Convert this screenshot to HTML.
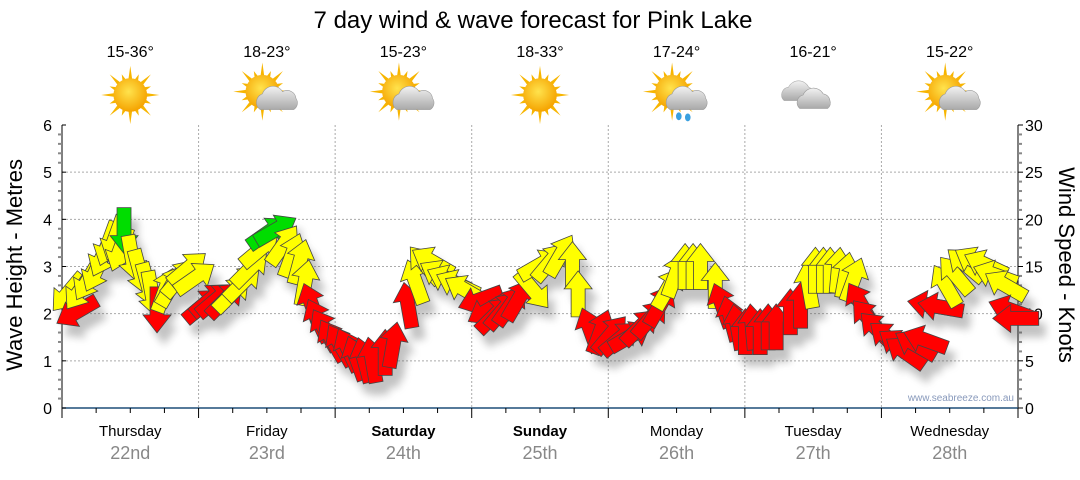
<!DOCTYPE html>
<html><head><meta charset="utf-8">
<style>
body{margin:0;background:#fff;width:1080px;height:475px;overflow:hidden;font-family:"Liberation Sans",sans-serif;}
svg text{font-family:"Liberation Sans","DejaVu Sans",sans-serif;}
</style></head>
<body>
<svg id="chart" width="1080" height="475" viewBox="0 0 1080 475" xmlns="http://www.w3.org/2000/svg">
<defs>
<filter id="sh" x="-50%" y="-50%" width="200%" height="200%"><feGaussianBlur stdDeviation="4"/></filter>
<radialGradient id="sunG" cx="45%" cy="40%" r="60%"><stop offset="0" stop-color="#ffe34d"/><stop offset="1" stop-color="#f5a300"/></radialGradient>
<linearGradient id="cloudG" x1="0" y1="0" x2="0" y2="1"><stop offset="0" stop-color="#f2f2f2"/><stop offset="1" stop-color="#a9a9a9"/></linearGradient>
</defs>
<text x="533" y="28" font-size="24" text-anchor="middle" fill="#000">7 day wind &amp; wave forecast for Pink Lake</text>
<g id="grid"></g>
<g id="wx"></g>
<g id="axes"></g>
<g id="shadows" filter="url(#sh)" opacity="0.35"></g>
<g id="arrows"></g>
<text transform="translate(22,265) rotate(-90)" font-size="22" text-anchor="middle">Wave Height - Metres</text>
<text transform="translate(1059,265) rotate(90)" font-size="22" text-anchor="middle">Wind Speed - Knots</text>
<text x="1014" y="401" font-size="10" text-anchor="end" fill="#8899bb">www.seabreeze.com.au</text>
</svg>
<script>
const dayNames=["Thursday","Friday","Saturday","Sunday","Monday","Tuesday","Wednesday"];
const dayDates=["22nd","23rd","24th","25th","26th","27th","28th"];
const boldDays=[false,false,true,true,false,false,false];
const temps=["15-36°","18-23°","15-23°","18-33°","17-24°","16-21°","15-22°"];
const icons=["sun","suncloud","suncloud","sun","rain","cloud","suncloud"];
const waveTicks=[0,1,2,3,4,5,6];
const windTicks=[0,5,10,15,20,25,30];
const hours=[1.05,2.6,3.2,4.6,6.0,7.2,8.1,9.3,10.2,10.9,12.3,13.7,15.1,15.8,16.7,18.1,19.3,20.7,22.1,23.4,
24.8,26.0,27.1,28.7,29.9,31.8,33.1,34.8,36.2,37.6,38.9,40.4,41.8,42.7,43.9,45.0,46.2,47.5,
48.9,50.3,51.7,53.1,54.5,56.8,58.2,60.8,62.1,63.8,65.1,66.5,67.9,69.5,70.9,
73.5,74.9,76.1,77.5,78.8,80.2,82.8,84.0,85.8,87.6,89.7,90.7,
92.8,94.6,96.4,98.1,99.9,101.6,103.4,105.1,106.5,107.8,109.5,110.9,112.2,114.8,
116.0,117.5,118.7,120.1,121.3,122.7,124.1,125.5,128.0,129.8,131.2,132.4,133.8,135.0,136.4,137.7,139.1,
140.3,141.7,143.3,145.2,147.0,148.2,150.0,151.7,152.6,154.4,
155.3,157.0,158.8,160.5,162.3,164.0,165.8,166.7,167.6];
const speeds=[12.2,10.2,12.5,13.6,14.6,16.2,17.4,18.0,16.8,18.8,15.9,14.4,13.0,12.1,10.4,12.5,13.0,13.8,14.8,13.8,
10.9,11.5,11.5,11.5,12.1,13.3,14.8,16.8,18.6,18.9,17.3,16.2,15.5,13.3,10.9,9.3,8.3,7.2,
6.7,6.2,5.3,5.1,5.1,5.9,6.7,10.9,13.4,15.2,15.5,14.1,13.6,13.1,12.5,
11.5,10.4,9.9,10.4,10.9,11.5,12.5,15.2,15.5,16.2,15.2,12.1,
8.3,8.1,7.8,7.4,7.6,8.6,9.5,10.9,12.7,14.1,15.0,15.0,15.0,13.0,
10.9,9.5,8.6,8.1,8.6,8.1,8.6,8.6,10.2,10.9,13.0,14.6,14.6,14.6,14.6,14.1,13.6,
11.1,9.5,8.3,7.4,6.7,5.9,6.7,7.2,10.9,10.7,
13.0,14.1,15.2,15.5,15.2,14.1,13.0,10.4,9.5];
const directions=[220,240,215,210,205,205,200,200,200,180,170,165,165,170,180,20,30,40,50,55,
50,50,50,45,45,45,45,50,55,60,35,20,15,10,340,335,330,330,
330,335,340,345,350,0,10,350,340,320,300,300,295,295,300,
250,240,45,40,35,30,140,60,40,30,0,0,
340,20,40,50,60,45,40,30,30,20,0,0,0,0,
340,345,350,0,355,0,0,0,0,0,350,0,0,0,5,10,20,
330,320,315,310,305,305,300,290,280,280,
330,320,310,300,295,290,300,290,270];

const X0=62,X1=1018,Y0=408,Y1=125;
const dayW=(X1-X0)/7;
const xT=h=>X0+h/168*(X1-X0);
const yW=m=>Y0-m/6*(Y0-Y1);
const yK=k=>Y0-k/30*(Y0-Y1);
const NS="http://www.w3.org/2000/svg";
function mk(tag,attrs,parent,txt){const e=document.createElementNS(NS,tag);for(const k in attrs)e.setAttribute(k,attrs[k]);if(txt!==undefined)e.textContent=txt;parent.appendChild(e);return e;}
const grid=document.getElementById('grid'),axes=document.getElementById('axes'),wx=document.getElementById('wx');
waveTicks.forEach(v=>{if(v===0||v===6)return;const l=mk('line',{x1:X0,x2:X1,y1:yW(v),y2:yW(v),stroke:'#aaa','stroke-dasharray':'2,2'},grid);

});
for(let d=1;d<7;d++){const l=mk('line',{x1:X0+d*dayW,x2:X0+d*dayW,y1:Y1,y2:Y0,stroke:'#aaa','stroke-dasharray':'2,2'},grid);

}
mk('line',{x1:X0,x2:X0,y1:Y1,y2:Y0+10,stroke:'#000'},axes);
mk('line',{x1:X1,x2:X1,y1:Y1,y2:Y0+10,stroke:'#000'},axes);
mk('line',{x1:X0,x2:X1,y1:Y0,y2:Y0,stroke:'#1f4e79','stroke-width':1.5},axes);
for(let i=0;i<=30;i++){const y=Y1+i*(Y0-Y1)/30;const maj=i%5===0;
mk('line',{x1:X0-(maj?0:4),x2:X0+(maj?4:0),y1:y,y2:y,stroke:maj?'#000':'#888','stroke-width':maj?1:2},axes);
mk('line',{x1:X1,x2:X1+(maj?5:4),y1:y,y2:y,stroke:maj?'#000':'#888','stroke-width':maj?1:2},axes);}
waveTicks.forEach(v=>{const t=mk('text',{x:X0-10,y:yW(v)+6,'font-size':16,'text-anchor':'end'},axes,String(v));

});
windTicks.forEach(v=>{const t=mk('text',{x:X1+7,y:yK(v)+6,'font-size':16},axes,String(v));

});
for(let i=0;i<=28;i++){const x=X0+i*dayW/4;const maj=i%4===0;
mk('line',{x1:x,x2:x,y1:Y0,y2:Y0+(maj?10:5),stroke:'#000'},axes);}
dayNames.forEach((n,i)=>{const cx=X0+(i+0.5)*dayW;
const t=mk('text',{x:cx,y:436,'font-size':15,'text-anchor':'middle','font-weight':boldDays[i]?'bold':'normal'},axes,n);


const d=mk('text',{x:cx,y:459,'font-size':18,'text-anchor':'middle',fill:'#888'},axes,dayDates[i]);


const tp=mk('text',{x:cx,y:57,'font-size':16,'text-anchor':'middle'},wx,temps[i]);


const g=mk('g',{transform:`translate(${cx},95) scale(1.12)`},wx);


const ic=icons[i];
if(ic!=='cloud'){const sx=(ic==='sun')?0:-4,sy=(ic==='sun')?0:-3;
for(let a=0;a<16;a++){const ang=a*Math.PI/8;const L=a%2?20:26;
const p1=[sx+Math.cos(ang-0.12)*14,sy+Math.sin(ang-0.12)*14],p2=[sx+Math.cos(ang)*L,sy+Math.sin(ang)*L],p3=[sx+Math.cos(ang+0.12)*14,sy+Math.sin(ang+0.12)*14];
mk('polygon',{points:[p1,p2,p3].map(p=>p.join(',')).join(' '),fill:'#f7b500'},g);}
mk('circle',{cx:sx,cy:sy,r:15,fill:'url(#sunG)'},g);}
if(ic==='suncloud'||ic==='rain'){
mk('path',{d:'M-6,13 a8,8 0 0 1 2,-14 a10,10 0 0 1 18,-2 a8,8 0 0 1 12,6 a7,7 0 0 1 -2,10 z',fill:'url(#cloudG)',stroke:'#999','stroke-width':0.5},g);
if(ic==='rain'){mk('ellipse',{cx:2,cy:19,rx:2.5,ry:3.5,fill:'#3aa0e0'},g);mk('ellipse',{cx:10,cy:20,rx:2.5,ry:3.5,fill:'#3aa0e0'},g);}}
if(ic==='cloud'){
mk('path',{d:'M-26,5 a7,7 0 0 1 4,-12 a10,10 0 0 1 18,0 a7,7 0 0 1 2,12 z',fill:'url(#cloudG)',stroke:'#aaa','stroke-width':0.5},g);
mk('path',{d:'M-12,12 a7,7 0 0 1 3,-12 a10,10 0 0 1 18,-1 a7,7 0 0 1 6,6 a6,6 0 0 1 -2,7 z',fill:'url(#cloudG)',stroke:'#999','stroke-width':0.5},g);}
});
const arrowPts="0,-23 14,-5 7,-5 7,23 -7,23 -7,-5 -14,-5";
const sh=document.getElementById('shadows'),ar=document.getElementById('arrows');
hours.forEach((h,i)=>{const x=xT(h),y=yK(speeds[i]);const s=speeds[i];
const col=s>=18.5?'#00dd00':(s>=12?'#ffff00':'#ff0000');
const p=mk('polygon',{points:arrowPts,transform:`translate(${x+7},${y+12}) rotate(${directions[i]})`,fill:'#555'},sh);


const a=mk('polygon',{points:arrowPts,transform:`translate(${x},${y}) rotate(${directions[i]})`,fill:col,stroke:'#444','stroke-width':0.8},ar);

});
</script>
</body></html>
